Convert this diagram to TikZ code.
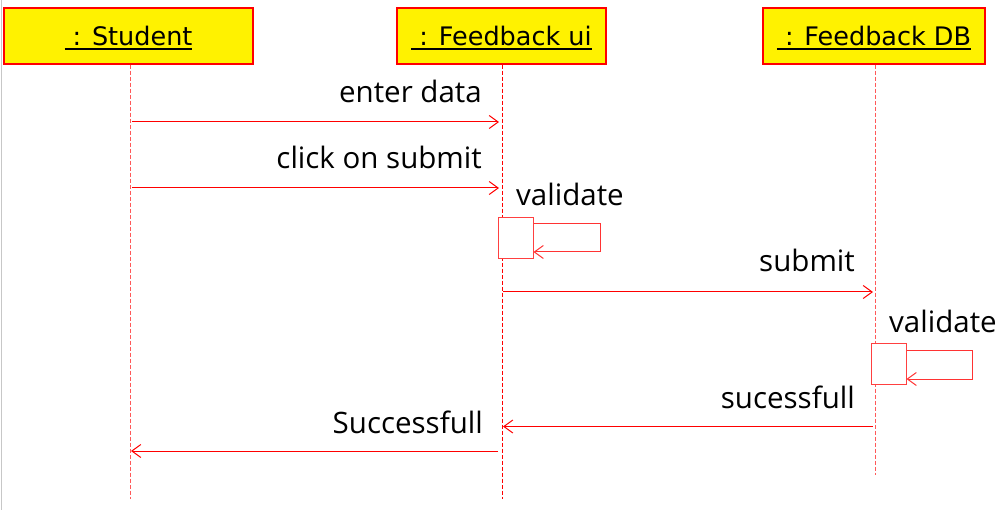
\documentclass[tikz,border=0pt]{standalone}
\usepackage{fontspec}
\setmainfont{Open Sans}
\newfontfamily\hdrfont{DejaVu Sans}
\usetikzlibrary{arrows.meta}
\newcommand\ulhdr[1]{\setbox0\hbox{#1}\rlap{\rule[-4pt]{\wd0}{2pt}}\box0}
\begin{document}
\begin{tikzpicture}[x=1pt,y=-1pt,
  hdr/.style={draw=red,line width=1.3pt,fill=yellow,minimum height=56pt,inner sep=0pt,
    text height=24pt,text depth=4pt,
    font=\hdrfont\fontsize{25.5}{30}\selectfont},
  lifeline/.style={red!65,line width=1pt,dash pattern=on 4pt off 2pt},
  msg/.style={red,line width=1pt,-{Straight Barb[length=9pt,width=13pt,line width=1pt]}},
  lbl/.style={font=\fontsize{29.5}{35}\selectfont,inner sep=0pt},
  act/.style={draw=red!75,line width=1pt,fill=white,minimum width=35pt,minimum height=41pt,inner sep=0pt}]
\useasboundingbox (0,0) rectangle (998,510);
\draw[line width=1.5pt,black!22] (1.5,0) -- (1.5,510);
% headers
\node[hdr,minimum width=249pt] (stu) at (128.5,36) {\ulhdr{\ : Student}};
\node[hdr,minimum width=209pt] (ui) at (501.5,36) {\ulhdr{\ : Feedback ui}};
\node[hdr,minimum width=222pt] (db) at (874,36) {\ulhdr{\ : Feedback DB}};
% lifelines
\coordinate (sEnd) at (130,499);
\coordinate (uEnd) at (502.5,499);
\coordinate (dEnd) at (875,475);
\draw[lifeline] (stu.south -| sEnd) -- (sEnd);
\draw[lifeline,red] (ui.south -| uEnd) -- (uEnd);
\draw[lifeline] (db.south -| dEnd) -- (dEnd);
% message points
\coordinate (s1) at (132,122); \coordinate (u1) at (499,122);
\coordinate (s2) at (132,188); \coordinate (u2) at (499,188);
\coordinate (u3) at (503,292); \coordinate (d3) at (873,292);
\coordinate (d4) at (873,426.5); \coordinate (u4) at (503,426.5);
\coordinate (u5) at (498,451); \coordinate (s5) at (131,451);
% messages
\draw[msg] (s1) -- (u1);
\node[lbl,anchor=base east] (l1) at (482,103) {enter data};
\draw[msg] (s2) -- (u2);
\node[lbl,anchor=base east] (l2) at (482,169) {click on submit};
\node[lbl,anchor=base west] (l3) at (516,206) {validate};
\node[act] (a1) at (515.5,238.5) {};
\draw[msg,red!80] (a1.east |- 0,223.5) -- (600,223.5) -- (600,252) -- (a1.east |- 0,252);
\draw[msg] (u3) -- (d3);
\node[lbl,anchor=base east] (l4) at (855,272) {submit};
\node[lbl,anchor=base west] (l5) at (889,333) {validate};
\node[act] (a2) at (888.5,364) {};
\draw[msg,red!80] (a2.east |- 0,350) -- (972.5,350) -- (972.5,379) -- (a2.east |- 0,379);
\draw[msg] (d4) -- (u4);
\node[lbl,anchor=base east] (l6) at (855,408) {sucessfull};
\draw[msg] (u5) -- (s5);
\node[lbl,anchor=base east] (l7) at (483,433) {Successfull};
\end{tikzpicture}
\end{document}
